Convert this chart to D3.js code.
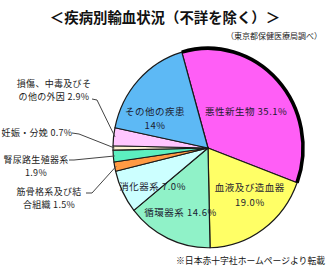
<!DOCTYPE html>
<html><head><meta charset="utf-8">
<script src="https://cdn.jsdelivr.net/npm/d3@7/dist/d3.min.js"></script>
<style>
html,body{margin:0;padding:0;background:#fff;}
svg{display:block;font-family:"Noto Sans CJK JP","Noto Sans",sans-serif;}
</style></head>
<body>
<svg id="chart" width="335" height="279"></svg>
<script>
// ---- data ----
const categories = ["悪性新生物","血液及び造血器","循環器系","消化器系","筋骨格系及び結合組織","腎尿路生殖器系","妊娠・分娩","損傷、中毒及びその他の外因","その他の疾患"];
const values = [35.1, 19.0, 14.6, 7.0, 1.5, 1.9, 0.7, 2.9, 17.3];
const valueLabels = ["35.1%","19.0%","14.6%","7.0%","1.5%","1.9%","0.7%","2.9%","14%"];
const title = "＜疾病別輸血状況（不詳を除く）＞";
const source = "（東京都保健医療局調べ）";
const note = "※日本赤十字社ホームページより転載";

// ---- style / layout ----
const colors = ["#FF5EF6","#FFFF66","#90F2C8","#CCFFFF","#FF9A44","#5CEFC0","#FFF4D4","#FFC6FF","#5DB9F5"];
const cx = 208, cy = 148, R = 95, sy = 1.05;
const labelLayout = [
  {inside:true, lines:["悪性新生物 35.1%"], r:52, dx:0, dy:0, box:true},
  {inside:true, lines:["血液及び造血器","19.0%"], r:60, dx:7, dy:-5},
  {inside:true, lines:["循環器系 14.6%"], r:65, dx:0, dy:2},
  {inside:true, lines:["消化器系 7.0%"], r:65, dx:3, dy:8},
  {inside:false, lines:["筋骨格系及び結","合組織 1.5%"], tx:49, ty:191, ex:86, ey:193, kx:92, ky:193},
  {inside:false, lines:["腎尿路生殖器系","1.9%"], tx:36, ty:159, ex:69, ey:160, kx:74, ky:160},
  {inside:false, lines:["妊娠・分娩 0.7%"], tx:37, ty:132, ex:72, ey:133, kx:79, ky:134},
  {inside:false, lines:["損傷、中毒及びそ","の他の外因 2.9%"], tx:54, ty:83, ex:92, ey:99, kx:97, ky:100},
  {inside:true, lines:["その他の疾患","14%"], r:60, dx:-9, dy:13}
];
const lineH = 14.5;

const svg = d3.select("#chart");

svg.append("text").attr("x",165).attr("y",16).attr("text-anchor","middle")
  .attr("dominant-baseline","central").attr("font-size",14.4).attr("font-weight","bold")
  .attr("fill","#111").text(title);
svg.append("text").attr("x",322).attr("y",35).attr("text-anchor","end")
  .attr("dominant-baseline","central").attr("font-size",8).attr("fill","#222").text(source);
svg.append("text").attr("x",325).attr("y",260).attr("text-anchor","end")
  .attr("dominant-baseline","central").attr("font-size",8.8).attr("fill","#111").text(note);

const pie = d3.pie().sort(null).value(d=>d)
  .startAngle(-16*Math.PI/180).endAngle(-16*Math.PI/180 + 2*Math.PI);
const arcs = pie(values);
const arc = d3.arc().innerRadius(0).outerRadius(R);

const g = svg.append("g").attr("transform",`translate(${cx},${cy}) scale(1,${sy})`);
g.selectAll("path.slice").data(arcs).enter().append("path")
  .attr("class","slice").attr("d",arc)
  .attr("fill",(d,i)=>colors[i])
  .attr("stroke","#1a1a1a").attr("stroke-width",1.2)
  .attr("stroke-linejoin","round")
  .attr("vector-effect","non-scaling-stroke");
const rim = d3.arc().innerRadius(R).outerRadius(R);
g.append("path").datum(arcs[0]).attr("d",rim).attr("fill","none")
  .attr("stroke","#000").attr("stroke-width",3.6).attr("stroke-linecap","round")
  .attr("vector-effect","non-scaling-stroke");

function polar(a, r){ return [cx + r*Math.sin(a), cy - r*Math.cos(a)*sy]; }

arcs.forEach((d,i)=>{
  const L = labelLayout[i];
  const mid = (d.startAngle + d.endAngle)/2;
  if (L.inside){
    const [px,py] = polar(mid, L.r);
    const x = px + L.dx, y = py + L.dy;
    const n = L.lines.length;
    const t = svg.append("text").attr("text-anchor","middle").attr("font-size",9.5)
      .attr("fill","#1c1c30").attr("letter-spacing",0.5);
    L.lines.forEach((s,k)=>{
      t.append("tspan").attr("x",x).attr("y", y + (k-(n-1)/2)*lineH)
        .attr("dominant-baseline","central").text(s);
    });
    if (L.box){
      const bb = t.node().getBBox();
      svg.insert("rect","text").attr("x",bb.x-3).attr("y",y-8).attr("width",bb.width+6).attr("height",16)
        .attr("fill","none").attr("stroke","#E8154A").attr("stroke-width",1.6);
    }
  } else {
    const [ax,ay] = polar(mid, R*0.985);
    svg.append("path").attr("d",`M${L.ex},${L.ey}L${L.kx},${L.ky}L${ax},${ay}`)
      .attr("fill","none").attr("stroke","#444").attr("stroke-width",1);
    const t = svg.append("text").attr("text-anchor","middle").attr("font-size",9)
      .attr("fill","#1c1c1c").attr("letter-spacing",0.3);
    L.lines.forEach((s,k)=>{
      t.append("tspan").attr("x",L.tx).attr("y", L.ty + k*13.5)
        .attr("dominant-baseline","central").text(s);
    });
  }
});
</script>
</body></html>
